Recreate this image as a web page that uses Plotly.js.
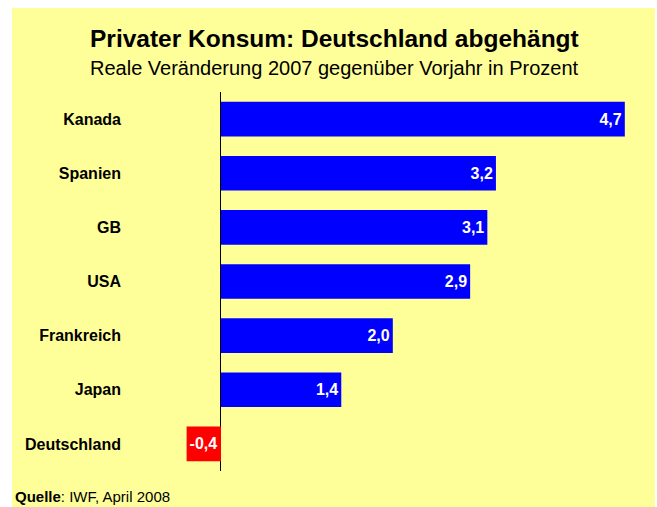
<!DOCTYPE html>
<html><head><meta charset="utf-8">
<script src="https://cdn.plot.ly/plotly-3.0.1.min.js"></script>
<style>body{margin:0;background:#fff;}#chart{position:absolute;left:12px;top:8px;width:643px;height:499px;}</style>
</head><body><div id="chart"></div>
<script>
const countries = ["Kanada","Spanien","GB","USA","Frankreich","Japan","Deutschland"];
const values = [4.7, 3.2, 3.1, 2.9, 2.0, 1.4, -0.4];
const colors = values.map(v => v < 0 ? "#FF0000" : "#0000FF");
const titleText = "Privater Konsum: Deutschland abgehängt";
const subtitleText = "Reale Veränderung 2007 gegenüber Vorjahr in Prozent";
const sourceText = "<b>Quelle</b>: IWF, April 2008";

const trace = {
  type: "bar", orientation: "h",
  y: countries, x: values,
  marker: {color: colors, line: {width: 0}},
  texttemplate: "%{x:.1f}",
  textposition: "inside",
  insidetextanchor: "end",
  textangle: 0,
  constraintext: "none",
  textfont: {family: "Liberation Sans, Arial, sans-serif", size: 16, color: "#FFFFFF", weight: "bold"},
  hoverinfo: "none"
};
const layout = {
  width: 643, height: 499,
  paper_bgcolor: "#FFFF99", plot_bgcolor: "#FFFF99",
  separators: ",.",
  margin: {l: 160, r: 13, t: 84, b: 36},
  bargap: 0.36,
  showlegend: false,
  xaxis: {range: [-0.57, 4.9], showgrid: false, showticklabels: false, zeroline: true, zerolinecolor: "#000000", zerolinewidth: 1, showline: false, fixedrange: true},
  yaxis: {autorange: "reversed", showgrid: false, showline: false, zeroline: false, ticklabelstandoff: 50,
          tickfont: {family: "Liberation Sans, Arial, sans-serif", size: 16, color: "#000000", weight: "bold"}},
  annotations: [
    {text: "<b>" + titleText + "</b>", xref: "paper", yref: "paper", x: 0.3447, y: 1.14, xanchor: "center", yanchor: "middle", showarrow: false,
     font: {family: "Liberation Sans, Arial, sans-serif", size: 24.5, color: "#000000"}},
    {text: subtitleText, xref: "paper", yref: "paper", x: 0.3447, y: 1.063, xanchor: "center", yanchor: "middle", showarrow: false,
     font: {family: "Liberation Sans, Arial, sans-serif", size: 20, color: "#000000"}},
    {text: sourceText, xref: "paper", yref: "paper", x: -0.338, y: -0.0686, xanchor: "left", yanchor: "middle", showarrow: false,
     font: {family: "Liberation Sans, Arial, sans-serif", size: 15, color: "#000000"}}
  ]
};
Plotly.newPlot("chart", [trace], layout, {displayModeBar: false, staticPlot: true});
</script></body></html>
